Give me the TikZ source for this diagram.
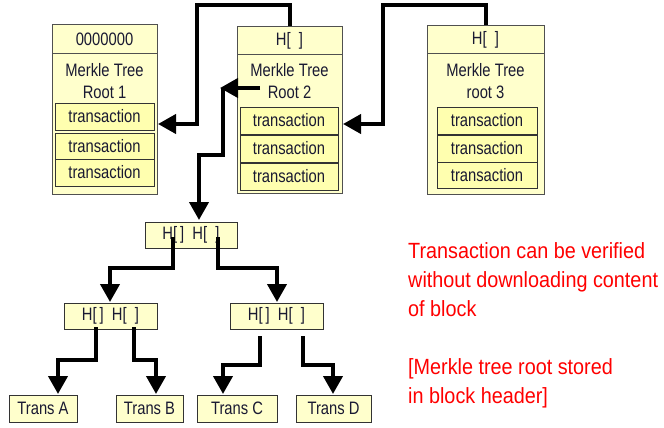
\documentclass[tikz,border=0pt]{standalone}
\usepackage{fontspec}
\setmainfont{Liberation Sans}
\newfontfamily\boxfont[FakeStretch=0.82]{Liberation Sans}
\newfontfamily\notefont[FakeStretch=0.9]{Liberation Sans}
\usetikzlibrary{arrows.meta}
\definecolor{blockfill}{RGB}{255,255,204}
\definecolor{transfill}{RGB}{255,255,175}
\definecolor{boxtext}{RGB}{25,25,50}
\definecolor{boxline}{RGB}{80,80,80}
\tikzset{
  blockbox/.style={draw=boxline, line width=1pt, fill=blockfill, inner sep=0pt},
  headbox/.style={draw=boxline, line width=1pt, fill=blockfill, inner sep=0pt, text=boxtext, font=\boxfont\fontsize{18}{20}\selectfont},
  transbox/.style={draw=black!80, line width=0.9pt, fill=transfill, inner sep=0pt, text=boxtext, font=\boxfont\fontsize{18}{20}\selectfont},
  rootlabel/.style={align=center, inner sep=0pt, text=boxtext, font=\boxfont\fontsize{18}{22}\selectfont},
  treebox/.style={draw=black!80, line width=0.9pt, fill=blockfill, inner sep=0pt, text=boxtext, font=\boxfont\fontsize{18}{20}\selectfont},
  conn/.style={line width=4pt, draw=black, -{Triangle[length=18pt,width=19pt]}},
  note/.style={anchor=base west, align=left, inner sep=0pt, text=red, font=\notefont\fontsize{22}{29}\selectfont}
}
\begin{document}
\begin{tikzpicture}[x=1pt,y=-1pt]
\useasboundingbox[fill=white] (0,0) rectangle (664,428);

% ---- Block 1
\node[blockbox, minimum width=105pt, minimum height=169pt] (b1) at (104.5,109.5) {};
\node[headbox, minimum width=105pt, minimum height=29pt] (b1h) at (104.5,39.5) {0000000};
\node[rootlabel] (b1r) at (104.5,81) {Merkle Tree\\Root 1};
\node[transbox, minimum width=99pt, minimum height=27pt] (b1t1) at (104.5,116.5) {transaction};
\node[transbox, minimum width=99pt, minimum height=26pt] (b1t2) at (104.5,146) {transaction};
\node[transbox, minimum width=99pt, minimum height=27pt] (b1t3) at (104.5,172.5) {transaction};

% ---- Block 2
\node[blockbox, minimum width=105pt, minimum height=166pt] (b2) at (289.5,110) {};
\node[headbox, minimum width=105pt, minimum height=28pt] (b2h) at (289.5,41) {H[\ \ ]};
\node[rootlabel] (b2r) at (289.5,81) {Merkle Tree\\Root 2};
\node[transbox, minimum width=98pt, minimum height=27pt] (b2t1) at (289,120.5) {transaction};
\node[transbox, minimum width=98pt, minimum height=27pt] (b2t2) at (289,148.5) {transaction};
\node[transbox, minimum width=98pt, minimum height=27pt] (b2t3) at (289,176.5) {transaction};

% ---- Block 3
\node[blockbox, minimum width=117pt, minimum height=168pt] (b3) at (485.5,110) {};
\node[headbox, minimum width=117pt, minimum height=28pt] (b3h) at (485.5,40) {H[\ \ ]};
\node[rootlabel] (b3r) at (485.5,81) {Merkle Tree\\root 3};
\node[transbox, minimum width=100pt, minimum height=27pt] (b3t1) at (487,120.5) {transaction};
\node[transbox, minimum width=100pt, minimum height=27pt] (b3t2) at (487,148.5) {transaction};
\node[transbox, minimum width=100pt, minimum height=26pt] (b3t3) at (487,175) {transaction};

% ---- Tree
\node[treebox, minimum width=92pt, minimum height=26pt] (tr) at (191,235) {H[\,]\ \ H[\ \ ]};
\node[treebox, minimum width=93pt, minimum height=26pt] (l2) at (110.5,316) {H[\,]\ \ H[\ \ ]};
\node[treebox, minimum width=93pt, minimum height=26pt] (r2) at (276.5,316) {H[\,]\ \ H[\ \ ]};
\node[treebox, minimum width=68pt, minimum height=27pt] (ta) at (43,408.5) {Trans A};
\node[treebox, minimum width=67pt, minimum height=27pt] (tb) at (149.5,408.5) {Trans B};
\node[treebox, minimum width=80pt, minimum height=27pt] (tc) at (237,408.5) {Trans C};
\node[treebox, minimum width=75pt, minimum height=27pt] (td) at (333.5,408.5) {Trans D};

% ---- helper coordinates
\coordinate (e1) at (158,124);
\coordinate (e2) at (343,124);
\coordinate (rp) at (260,88);
\coordinate (rtip) at (220,88);
\coordinate (rd) at (223,88);
\coordinate (trtop) at (199,220);
\coordinate (trl) at (173,237);
\coordinate (trr) at (218,237);
\coordinate (l2top) at (110,302);
\coordinate (r2top) at (277,302);
\coordinate (l2l) at (96,327);
\coordinate (l2r) at (134,327);
\coordinate (r2l) at (260,336);
\coordinate (r2r) at (303,336);
\coordinate (tatop) at (58,394);
\coordinate (tbtop) at (156,394);
\coordinate (tctop) at (223,394);
\coordinate (tdtop) at (333,394);

% ---- block-chain connectors
\draw[conn] (b2.north) -- (289.5,5) -- (197,5) -- (197,124) -- (e1);
\draw[conn] (b3.north) -- (485.5,5) -- (383,5) -- (383,124) -- (e2);

% ---- root pointer into tree
\draw[conn] (rp) -- (rtip);
\draw[conn] (rd) -- (223,155) -- (199,155) -- (trtop);

% ---- tree connectors
\draw[conn] (trl) -- (173,268) -- (110,268) -- (l2top);
\draw[conn] (trr) -- (218,268) -- (277,268) -- (r2top);
\draw[conn] (l2l) -- (96,360) -- (58,360) -- (tatop);
\draw[conn] (l2r) -- (134,360) -- (156,360) -- (tbtop);
\draw[conn] (r2l) -- (260,365) -- (223,365) -- (tctop);
\draw[conn] (r2r) -- (303,365) -- (333,365) -- (tdtop);

% ---- note (anchored at the baseline of its last line)
\node[note] (n1) at (408,403) {Transaction can be verified\\without downloading content\\of block\\[29pt]{[}Merkle tree root stored\\in block header]};
\end{tikzpicture}
\end{document}
